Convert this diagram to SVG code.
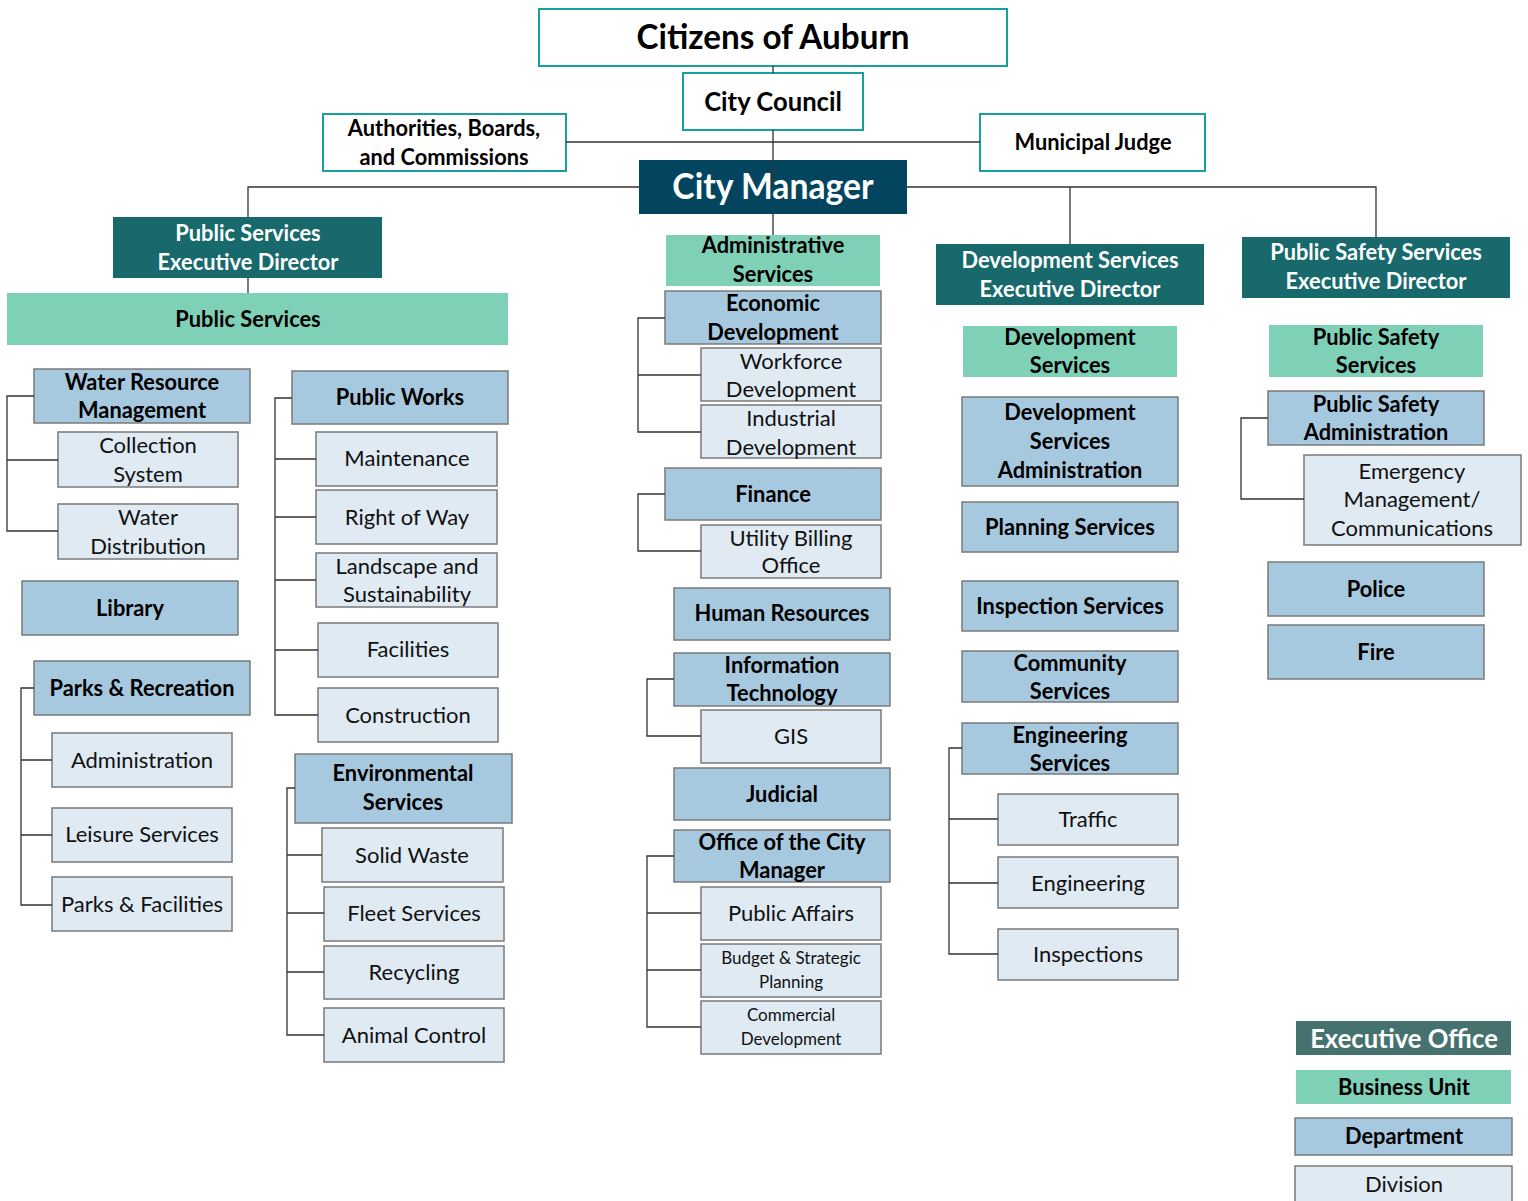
<svg xmlns="http://www.w3.org/2000/svg" width="1528" height="1201" viewBox="0 0 1528 1201">
<style>
text{font-family:Lato,"Open Sans","Liberation Sans",sans-serif;text-anchor:middle}
.b{font-weight:700;font-size:23px;fill:#000}
.w{font-weight:700;font-size:23px;fill:#fff}
.r{font-weight:400;font-size:22px;fill:#111}
.s{font-weight:400;font-size:17px;fill:#111}
.top{fill:#fff;stroke:#17A09E;stroke-width:2}
.mgr{fill:#03455F}
.exec{fill:#17696B}
.bu{fill:#7ED0B7}
.dept{fill:#A7C9DF;stroke:#7A7A7A;stroke-width:1.5}
.div{fill:#DFEAF3;stroke:#7A7A7A;stroke-width:1.5}
.leg{fill:#45726E}
#connectors path{fill:none;stroke:#333;stroke-width:1.3}
</style>
<rect width="1528" height="1201" fill="#fff"/>

<g id="citizens"><rect class="top" x="539" y="9" width="468" height="57"/><g transform="matrix(.95 0 0 1 773 0)"><text class="b" style="font-size:35px" y="49.5">Citizens of Auburn</text></g></g>
<g id="council"><rect class="top" x="683" y="73" width="180" height="57"/><g transform="matrix(.95 0 0 1 773 0)"><text class="b" style="font-size:27px" y="111">City Council</text></g></g>
<g id="authorities"><rect class="top" x="323" y="114" width="243" height="57"/><g transform="matrix(.95 0 0 1 444 0)"><text class="b" y="136">Authorities, Boards,</text><text class="b" y="165">and Commissions</text></g></g>
<g id="judge"><rect class="top" x="980" y="114" width="225" height="57"/><g transform="matrix(.95 0 0 1 1093 0)"><text class="b" y="150">Municipal Judge</text></g></g>
<g id="city-manager"><rect class="mgr" x="639" y="160" width="268" height="54"/><g transform="matrix(.95 0 0 1 773 0)"><text class="w" style="font-size:35.5px" y="199.5">City Manager</text></g></g>

<g id="ps-exec"><rect class="exec" x="113" y="217" width="269" height="61"/><g transform="matrix(.95 0 0 1 248 0)"><text class="w" y="241">Public Services</text><text class="w" y="270">Executive Director</text></g></g>
<g id="ds-exec"><rect class="exec" x="936" y="244" width="268" height="61"/><g transform="matrix(.95 0 0 1 1070 0)"><text class="w" y="268">Development Services</text><text class="w" y="297">Executive Director</text></g></g>
<g id="pss-exec"><rect class="exec" x="1242" y="237" width="268" height="61"/><g transform="matrix(.95 0 0 1 1376 0)"><text class="w" y="260">Public Safety Services</text><text class="w" y="289">Executive Director</text></g></g>

<g id="ps-bu"><rect class="bu" x="7" y="293" width="501" height="52"/><g transform="matrix(.95 0 0 1 248 0)"><text class="b" y="327">Public Services</text></g></g>
<g id="as-bu"><rect class="bu" x="666" y="235" width="214" height="51"/><g transform="matrix(.95 0 0 1 773 0)"><text class="b" y="253">Administrative</text><text class="b" y="282">Services</text></g></g>
<g id="dsv-bu"><rect class="bu" x="963" y="326" width="214" height="51"/><g transform="matrix(.95 0 0 1 1070 0)"><text class="b" y="345">Development</text><text class="b" y="373">Services</text></g></g>
<g id="pssv-bu"><rect class="bu" x="1269" y="325" width="214" height="52"/><g transform="matrix(.95 0 0 1 1376 0)"><text class="b" y="345">Public Safety</text><text class="b" y="373">Services</text></g></g>

<g id="wrm"><rect class="dept" x="34" y="369" width="216" height="54"/><g transform="matrix(.95 0 0 1 142 0)"><text class="b" y="390">Water Resource</text><text class="b" y="418">Management</text></g></g>
<g id="collection"><rect class="div" x="58" y="432" width="180" height="55"/><g transform="matrix(1 0 0 1 148 0)"><text class="r" y="453">Collection</text><text class="r" y="482">System</text></g></g>
<g id="water-dist"><rect class="div" x="58" y="504" width="180" height="55"/><g transform="matrix(1 0 0 1 148 0)"><text class="r" y="525">Water</text><text class="r" y="554">Distribution</text></g></g>
<g id="library"><rect class="dept" x="22" y="581" width="216" height="54"/><g transform="matrix(.95 0 0 1 130 0)"><text class="b" y="616">Library</text></g></g>
<g id="parks"><rect class="dept" x="34" y="661" width="216" height="54"/><g transform="matrix(.95 0 0 1 142 0)"><text class="b" y="696">Parks &amp; Recreation</text></g></g>
<g id="administration"><rect class="div" x="52" y="733" width="180" height="54"/><g transform="matrix(1 0 0 1 142 0)"><text class="r" y="768">Administration</text></g></g>
<g id="leisure"><rect class="div" x="52" y="808" width="180" height="54"/><g transform="matrix(1 0 0 1 142 0)"><text class="r" y="842">Leisure Services</text></g></g>
<g id="parks-fac"><rect class="div" x="52" y="877" width="180" height="54"/><g transform="matrix(1 0 0 1 142 0)"><text class="r" y="912">Parks &amp; Facilities</text></g></g>

<g id="public-works"><rect class="dept" x="292" y="371" width="216" height="53"/><g transform="matrix(.95 0 0 1 400 0)"><text class="b" y="405">Public Works</text></g></g>
<g id="maintenance"><rect class="div" x="316" y="432" width="181" height="54"/><g transform="matrix(1 0 0 1 407 0)"><text class="r" y="466">Maintenance</text></g></g>
<g id="right-of-way"><rect class="div" x="316" y="490" width="181" height="54"/><g transform="matrix(1 0 0 1 407 0)"><text class="r" y="525">Right of Way</text></g></g>
<g id="landscape"><rect class="div" x="316" y="553" width="181" height="54"/><g transform="matrix(1 0 0 1 407 0)"><text class="r" y="574">Landscape and</text><text class="r" y="602">Sustainability</text></g></g>
<g id="facilities"><rect class="div" x="318" y="623" width="180" height="54"/><g transform="matrix(1 0 0 1 408 0)"><text class="r" y="657">Facilities</text></g></g>
<g id="construction"><rect class="div" x="318" y="688" width="180" height="54"/><g transform="matrix(1 0 0 1 408 0)"><text class="r" y="723">Construction</text></g></g>
<g id="environmental"><rect class="dept" x="295" y="754" width="217" height="69"/><g transform="matrix(.95 0 0 1 403 0)"><text class="b" y="781">Environmental</text><text class="b" y="810">Services</text></g></g>
<g id="solid-waste"><rect class="div" x="322" y="828" width="181" height="54"/><g transform="matrix(1 0 0 1 412 0)"><text class="r" y="863">Solid Waste</text></g></g>
<g id="fleet"><rect class="div" x="324" y="887" width="180" height="54"/><g transform="matrix(1 0 0 1 414 0)"><text class="r" y="921">Fleet Services</text></g></g>
<g id="recycling"><rect class="div" x="324" y="946" width="180" height="53"/><g transform="matrix(1 0 0 1 414 0)"><text class="r" y="980">Recycling</text></g></g>
<g id="animal"><rect class="div" x="324" y="1008" width="180" height="54"/><g transform="matrix(1 0 0 1 414 0)"><text class="r" y="1043">Animal Control</text></g></g>

<g id="economic"><rect class="dept" x="665" y="291" width="216" height="53"/><g transform="matrix(.95 0 0 1 773 0)"><text class="b" y="311">Economic</text><text class="b" y="340">Development</text></g></g>
<g id="workforce"><rect class="div" x="701" y="348" width="180" height="53"/><g transform="matrix(1 0 0 1 791 0)"><text class="r" y="369">Workforce</text><text class="r" y="397">Development</text></g></g>
<g id="industrial"><rect class="div" x="701" y="405" width="180" height="53"/><g transform="matrix(1 0 0 1 791 0)"><text class="r" y="426">Industrial</text><text class="r" y="455">Development</text></g></g>
<g id="finance"><rect class="dept" x="665" y="468" width="216" height="52"/><g transform="matrix(.95 0 0 1 773 0)"><text class="b" y="502">Finance</text></g></g>
<g id="utility"><rect class="div" x="701" y="525" width="180" height="53"/><g transform="matrix(1 0 0 1 791 0)"><text class="r" y="546">Utility Billing</text><text class="r" y="573">Office</text></g></g>
<g id="hr"><rect class="dept" x="674" y="588" width="216" height="52"/><g transform="matrix(.95 0 0 1 782 0)"><text class="b" y="621">Human Resources</text></g></g>
<g id="it"><rect class="dept" x="674" y="653" width="216" height="53"/><g transform="matrix(.95 0 0 1 782 0)"><text class="b" y="673">Information</text><text class="b" y="701">Technology</text></g></g>
<g id="gis"><rect class="div" x="701" y="710" width="180" height="53"/><g transform="matrix(1 0 0 1 791 0)"><text class="r" y="744">GIS</text></g></g>
<g id="judicial"><rect class="dept" x="674" y="768" width="216" height="52"/><g transform="matrix(.95 0 0 1 782 0)"><text class="b" y="802">Judicial</text></g></g>
<g id="ocm"><rect class="dept" x="674" y="830" width="216" height="52"/><g transform="matrix(.95 0 0 1 782 0)"><text class="b" y="850">Office of the City</text><text class="b" y="878">Manager</text></g></g>
<g id="public-affairs"><rect class="div" x="701" y="887" width="180" height="53"/><g transform="matrix(1 0 0 1 791 0)"><text class="r" y="921">Public Affairs</text></g></g>
<g id="budget"><rect class="div" x="701" y="944" width="180" height="53"/><g transform="matrix(1 0 0 1 791 0)"><text class="s" y="964">Budget &amp; Strategic</text><text class="s" y="988">Planning</text></g></g>
<g id="commercial"><rect class="div" x="701" y="1001" width="180" height="53"/><g transform="matrix(1 0 0 1 791 0)"><text class="s" y="1021">Commercial</text><text class="s" y="1045">Development</text></g></g>

<g id="dsa"><rect class="dept" x="962" y="397" width="216" height="89"/><g transform="matrix(.95 0 0 1 1070 0)"><text class="b" y="420">Development</text><text class="b" y="449">Services</text><text class="b" y="478">Administration</text></g></g>
<g id="planning"><rect class="dept" x="962" y="502" width="216" height="50"/><g transform="matrix(.95 0 0 1 1070 0)"><text class="b" y="535">Planning Services</text></g></g>
<g id="inspection-svc"><rect class="dept" x="962" y="581" width="216" height="50"/><g transform="matrix(.95 0 0 1 1070 0)"><text class="b" y="614">Inspection Services</text></g></g>
<g id="community"><rect class="dept" x="962" y="651" width="216" height="51"/><g transform="matrix(.95 0 0 1 1070 0)"><text class="b" y="671">Community</text><text class="b" y="699">Services</text></g></g>
<g id="eng-svc"><rect class="dept" x="962" y="723" width="216" height="51"/><g transform="matrix(.95 0 0 1 1070 0)"><text class="b" y="743">Engineering</text><text class="b" y="771">Services</text></g></g>
<g id="traffic"><rect class="div" x="998" y="794" width="180" height="51"/><g transform="matrix(1 0 0 1 1088 0)"><text class="r" y="827">Traffic</text></g></g>
<g id="engineering"><rect class="div" x="998" y="857" width="180" height="51"/><g transform="matrix(1 0 0 1 1088 0)"><text class="r" y="891">Engineering</text></g></g>
<g id="inspections"><rect class="div" x="998" y="929" width="180" height="51"/><g transform="matrix(1 0 0 1 1088 0)"><text class="r" y="962">Inspections</text></g></g>

<g id="psa"><rect class="dept" x="1268" y="391" width="216" height="54"/><g transform="matrix(.95 0 0 1 1376 0)"><text class="b" y="412">Public Safety</text><text class="b" y="440">Administration</text></g></g>
<g id="emergency"><rect class="div" x="1304" y="455" width="217" height="90"/><g transform="matrix(1 0 0 1 1412 0)"><text class="r" y="479">Emergency</text><text class="r" y="507">Management/</text><text class="r" y="536">Communications</text></g></g>
<g id="police"><rect class="dept" x="1268" y="562" width="216" height="54"/><g transform="matrix(.95 0 0 1 1376 0)"><text class="b" y="597">Police</text></g></g>
<g id="fire"><rect class="dept" x="1268" y="625" width="216" height="54"/><g transform="matrix(.95 0 0 1 1376 0)"><text class="b" y="660">Fire</text></g></g>

<g id="legend">
<g id="leg-exec"><rect class="leg" x="1296" y="1021" width="215" height="34"/><g transform="matrix(.95 0 0 1 1404 0)"><text class="w" style="font-size:27px" y="1048">Executive Office</text></g></g>
<g id="leg-bu"><rect class="bu" x="1296" y="1070" width="215" height="34"/><g transform="matrix(.95 0 0 1 1404 0)"><text class="b" y="1095">Business Unit</text></g></g>
<g id="leg-dept"><rect class="dept" x="1295" y="1118" width="217" height="37"/><g transform="matrix(.95 0 0 1 1404 0)"><text class="b" y="1144">Department</text></g></g>
<g id="leg-div"><rect class="div" x="1295" y="1166" width="217" height="40"/><g transform="matrix(1 0 0 1 1404 0)"><text class="r" y="1192">Division</text></g></g>
</g>

<g id="connectors">
<path d="M773 66V73M773 130V187M566 142H980M773 214V235"/>
<path d="M639 187H248V217M907 187H1376V237M1070 187V244M248 278V293"/>
<path d="M34 396H7V531H58M7 460H58"/>
<path d="M34 688H21V905H52M21 760H52M21 835H52"/>
<path d="M292 398H275V715H318M275 459H316M275 517H316M275 580H316M275 650H318"/>
<path d="M295 788H287V1035H324M287 855H322M287 913H324M287 972H324"/>
<path d="M665 318H638V432H701M638 375H701"/>
<path d="M665 494H638V551H701"/>
<path d="M674 679H647V736H701"/>
<path d="M674 856H647V1027H701M647 913H701M647 970H701"/>
<path d="M962 748H949V954H998M949 819H998M949 883H998"/>
<path d="M1268 418H1241V499H1304"/>
</g>
</svg>
